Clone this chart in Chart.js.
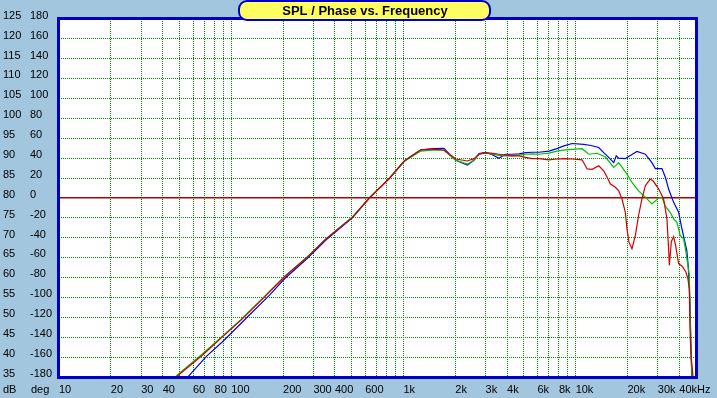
<!DOCTYPE html>
<html>
<head>
<meta charset="utf-8">
<script src="https://cdn.jsdelivr.net/npm/chart.js@4.4.1/dist/chart.umd.min.js"></script>
<style>
  html, body { margin: 0; padding: 0; background: #a2c6de; }
  #wrap { width: 717px; height: 398px; }
</style>
</head>
<body>
<div id="wrap"><canvas id="spl" width="717" height="398"></canvas></div>
<script>
const titleText = 'SPL / Phase vs. Frequency';

// vertical grid lines and the labelled ones
const gridFreqs = [10,20,30,40,50,60,70,80,90,100,200,300,400,500,600,700,800,900,
  1000,2000,3000,4000,5000,6000,7000,8000,9000,10000,20000,30000,40000,50000];
const labelFreqs = [10,20,30,40,60,80,100,200,300,400,600,1000,2000,3000,4000,6000,8000,10000,20000,30000,40000];
const labelTexts = ['10','20','30','40','60','80','100','200','300','400','600','1k','2k','3k','4k','6k','8k','10k','20k','30k','40kHz'];

// red curve
const freqRed = [40,48.9,68.5,89.6,114,153,204,278,356,507,634,828,1012,1081,1262,1500,1722,1923,2014,2350,2570,2748,3006,3300,3589,3900,4286,4690,5120,5600,6124,7000,7780,8553,9550,10900,11670,12470,13620,14560,15240,15920,17020,17790,18580,19440,19870,20400,21240,22230,23200,24270,25400,27100,28300,30370,32430,33900,34670,35000,35950,37070,38090,39630,41430,43680,44870,45710,46290,46900,47720,48500];
const splRed = [31.3,35.3,40.6,45.2,49.3,54.75,60.2,65.2,69.75,75.2,80,84.9,89.3,90.2,92.1,92.3,92.0,90.5,89.8,89.3,89.9,91.0,91.4,91.2,91.0,90.8,90.6,90.6,90.2,89.9,89.9,89.6,89.8,89.9,89.8,89.6,87.3,87.2,88.1,86.8,85.2,83.5,82.7,81.8,79.75,76.4,72.25,68.9,67.25,70.6,75.6,79.75,83.1,84.75,84.2,82.25,79.75,74.75,67.25,63.1,69.0,70.3,68.0,63.5,62.9,61.4,59.75,57.25,45,39.75,36.5,33];

// green curve
const freqGreen = [40,48.9,68.5,89.6,114,153,204,278,356,507,634,828,1012,1081,1262,1500,1722,1923,2014,2350,2570,2748,3006,3300,3589,3900,4286,4690,5120,5600,6124,7000,7780,8730,10900,11930,13340,14900,16640,17790,19870,21240,23200,25400,27730,30370,31700,33200,35400,37070,38750,40460,42370,43680,45710,46290,46900,47500];
const splGreen = [31.6,35.6,40.9,45.4,49.5,54.9,60.3,65.3,69.8,75.3,80,85,89.2,90,91.8,92.1,92.0,90.2,89.5,88.5,89.5,91.0,91.3,91.0,90.7,90.6,90.6,90.8,91.0,91.1,91.0,91.3,91.8,92.1,92.4,91.0,91.25,90.3,87.7,88.9,86.0,83.9,81.8,80.2,78.5,80.0,80.2,77.9,76.4,74.75,73.9,70.6,69.75,66.5,60.6,50,40,34];

// blue curve
const freqBlue = [40,48.9,56.6,71.8,89.6,125,167,204,278,356,507,634,828,1012,1081,1262,1500,1722,1923,2014,2350,2570,2748,3006,3300,3589,3900,4286,4690,5120,5600,6124,7000,7780,8553,9550,11140,12300,13620,14560,15560,16640,17200,17790,19440,21000,22700,25400,27730,29030,31700,33200,34670,37070,39630,41430,44230,45100,46000,46600,47200,48000];
const splBlue = [27.5,31.8,35.2,40.2,44.0,50.2,55.6,59.7,64.9,69.5,75.1,80,84.9,89.3,90.2,92.1,92.4,92.5,90.2,89.5,88.3,89.5,91.2,91.5,90.8,90.0,91.0,91.0,91.1,91.4,91.5,91.5,91.8,92.4,93.1,93.7,93.5,93.2,92.7,91.4,90.2,88.9,90.6,90.0,89.9,90.8,91.7,91.0,88.9,87.4,87.4,85.2,82.25,78.9,76.4,72.25,66.8,62.7,55,45,36,30];

const pts = (f, v) => f.map((x, i) => ({x: x, y: v[i]}));
const FONT = '"Liberation Sans", Arial, sans-serif';
const GRID = '#009000';

const frame = {
  id: 'frame',
  beforeDraw(chart) {
    const {ctx, chartArea: a} = chart;
    ctx.save();
    ctx.fillStyle = '#a2c6de';
    ctx.fillRect(0, 0, chart.width, chart.height);
    ctx.fillStyle = '#ffffff';
    ctx.fillRect(a.left, a.top, a.right - a.left, a.bottom - a.top);
    ctx.restore();
  },
  afterDraw(chart) {
    const {ctx, chartArea: a} = chart;
    ctx.save();
    ctx.strokeStyle = '#0000c8';
    ctx.lineWidth = 3;
    ctx.strokeRect(a.left - 0.5, a.top - 0.5, a.right - a.left + 1, a.bottom - a.top + 1);
    // title pill
    ctx.beginPath();
    ctx.roundRect(239, 1, 251, 19, 8);
    ctx.fillStyle = '#ffff60';
    ctx.fill();
    ctx.lineWidth = 2;
    ctx.stroke();
    ctx.fillStyle = '#000';
    ctx.font = 'bold 13px ' + FONT;
    ctx.textAlign = 'center';
    ctx.textBaseline = 'alphabetic';
    ctx.fillText(titleText, 365, 15);
    ctx.font = '11px ' + FONT;
    ctx.textAlign = 'left';
    ctx.fillText('dB', 3, 393);
    ctx.fillText('deg', 31, 393);
    ctx.restore();
  }
};

const line = (label, color, data) => ({
  label: label, data: data, borderColor: color, borderWidth: 1.2,
  pointRadius: 0, showLine: true, tension: 0, fill: false
});

new Chart(document.getElementById('spl'), {
  type: 'scatter',
  data: {
    datasets: [
      line('red', '#d00000', pts(freqRed, splRed)),
      line('green', '#00c000', pts(freqGreen, splGreen)),
      line('blue', '#0000e6', pts(freqBlue, splBlue))
    ]
  },
  options: {
    responsive: false,
    animation: false,
    events: [],
    layout: { padding: { left: 3, top: 19, right: 21, bottom: 0 } },
    plugins: { legend: { display: false }, tooltip: { enabled: false } },
    scales: {
      x: {
        type: 'logarithmic', min: 10, max: 50000,
        afterBuildTicks: s => { s.ticks = gridFreqs.map(v => ({value: v})); },
        afterFit: s => { s.height = 21; s.paddingLeft = 0; s.paddingRight = 0; },
        grid: { color: GRID, lineWidth: 1, drawTicks: false },
        border: { display: false, dash: [1, 1] },
        ticks: {
          autoSkip: false, maxRotation: 0, minRotation: 0, align: 'start', padding: 6,
          color: '#000', font: { family: FONT, size: 11 },
          callback: v => { const i = labelFreqs.indexOf(v); return i >= 0 ? labelTexts[i] : ''; }
        }
      },
      y: {
        type: 'linear', position: 'left', weight: 1, min: 35, max: 125,
        afterFit: s => { s.width = 27; s.paddingTop = 0; s.paddingBottom = 0; },
        grid: {
          drawTicks: false,
          color: c => c.tick && c.tick.value === 80 ? '#b00000' : GRID,
          lineWidth: c => c.tick && c.tick.value === 80 ? 1.6 : 1
        },
        border: { display: false, dash: c => c.tick && c.tick.value === 80 ? [] : [1, 1] },
        ticks: {
          stepSize: 5, padding: 0, crossAlign: 'far', color: '#000',
          font: { family: FONT, size: 11, lineHeight: 0.6 },
          callback: v => [String(v), '']
        }
      },
      y2: {
        type: 'linear', position: 'left', weight: 0, min: -180, max: 180,
        afterFit: s => { s.width = 29; s.paddingTop = 0; s.paddingBottom = 0; },
        grid: { display: false, drawTicks: false },
        border: { display: false },
        ticks: {
          stepSize: 20, padding: 0, crossAlign: 'far', color: '#000',
          font: { family: FONT, size: 11, lineHeight: 0.6 },
          callback: v => [String(v), '']
        }
      }
    }
  },
  plugins: [frame]
});
</script>
</body>
</html>
